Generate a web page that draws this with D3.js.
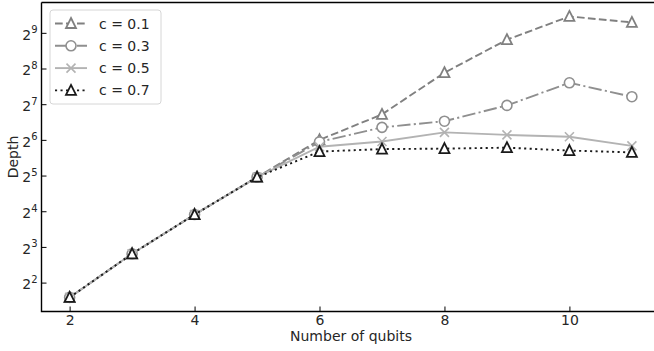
<!DOCTYPE html>
<html>
<head>
<meta charset="utf-8">
<script src="https://cdn.jsdelivr.net/npm/d3@7"></script>
<style>
  body { margin: 0; background: #fff; }
  svg text { font-family: "DejaVu Sans", sans-serif; fill: #262626; }
</style>
</head>
<body>
<div id="chart"></div>
<script>
// data
var qubits = [2, 3, 4, 5, 6, 7, 8, 9, 10, 11];
var depthC01 = [3, 7, 15, 31, 64, 105, 236, 448, 704, 627];
var depthC03 = [3, 7, 15, 31, 61.6, 81.6, 92, 125, 194, 148];
var depthC05 = [3, 7, 15, 31, 56, 62, 74, 70.5, 68, 57];
var depthC07 = [3, 7, 15, 31, 51, 53.5, 54, 55, 52, 50.2];
var seriesNames = ["c = 0.1", "c = 0.3", "c = 0.5", "c = 0.7"];
var xTicks = [2, 4, 6, 8, 10];
var yTickExps = [2, 3, 4, 5, 6, 7, 8, 9];

var width = 654, height = 351;
var margin = {top: 2.5, right: -6, bottom: 39.5, left: 41.5};
var innerW = width - margin.left - margin.right,
    innerH = height - margin.top - margin.bottom;

var svg = d3.select("#chart").append("svg")
    .attr("width", width)
    .attr("height", height);

var g = svg.append("g")
    .attr("transform", "translate(" + margin.left + "," + margin.top + ")");

var x = d3.scaleLinear()
    .domain([1.55, 11.45])
    .range([0, innerW]);

var y = d3.scaleLog().base(2)
    .domain([Math.pow(2, 1.19), Math.pow(2, 9.85)])
    .range([innerH, 0]);

// styles per series
var styles = [
  {values: depthC01, color: "#808080", dash: "7.7,3.3", marker: "tri"},
  {values: depthC03, color: "#8f8f8f", dash: "13.3,3.3,2.1,3.3", marker: "circle"},
  {values: depthC05, color: "#b3b3b3", dash: null, marker: "x"},
  {values: depthC07, color: "#1a1a1a", dash: "2.1,3.4", marker: "tri"}
];

var line = d3.line()
    .x(function(d) { return x(d[0]); })
    .y(function(d) { return y(d[1]); });

function drawMarker(sel, type, color) {
  if (type == "tri") {
    sel.append("path")
      .attr("d", "M0,-5 L5,5 L-5,5 Z")
      .attr("transform", "translate(0,-0.5)")
      .attr("fill", "#fff")
      .attr("stroke", color)
      .attr("stroke-width", 1.8)
      .attr("stroke-linejoin", "miter");
  } else if (type == "circle") {
    sel.append("circle")
      .attr("r", 5)
      .attr("fill", "#fff")
      .attr("stroke", color)
      .attr("stroke-width", 1.6);
  } else {
    sel.append("path")
      .attr("d", "M-4.5,-4.5 L4.5,4.5 M-4.5,4.5 L4.5,-4.5")
      .attr("stroke", color)
      .attr("stroke-width", 1.6);
  }
}

styles.forEach(function(s, i) {
  var pts = qubits.map(function(q, j) { return [q, s.values[j]]; });
  g.append("path")
    .datum(pts)
    .attr("fill", "none")
    .attr("stroke", s.color)
    .attr("stroke-width", 1.9)
    .attr("stroke-dasharray", s.dash)
    .attr("d", line);

  g.selectAll(".m" + i)
    .data(pts)
    .enter()
    .append("g")
      .attr("transform", function(d) { return "translate(" + x(d[0]) + "," + y(d[1]) + ")"; })
      .each(function() { drawMarker(d3.select(this), s.marker, s.color); });
});

// axes, ticks point inward
var xAxis = d3.axisBottom(x).tickValues(xTicks).tickSizeInner(-5).tickSizeOuter(0).tickPadding(3.5);
var gx = g.append("g")
    .attr("transform", "translate(0," + innerH + ")")
    .call(xAxis);
gx.select(".domain").remove();
gx.selectAll("line").attr("stroke", "#000").attr("stroke-width", 1);
gx.selectAll("text").attr("font-size", 14).attr("fill", "#262626");

var yAxis = d3.axisLeft(y)
    .tickValues(yTickExps.map(function(e) { return Math.pow(2, e); }))
    .tickSizeInner(-5).tickSizeOuter(0).tickPadding(6)
    .tickFormat("");
var gy = g.append("g").call(yAxis);
gy.select(".domain").remove();
gy.selectAll("line").attr("stroke", "#000").attr("stroke-width", 1);
gy.selectAll(".tick").each(function(d, i) {
  var t = d3.select(this).select("text")
    .attr("font-size", 14)
    .attr("x", -4)
    .attr("dy", "0.45em");
  t.append("tspan").text("2");
  t.append("tspan").attr("font-size", 10).attr("dy", "-0.65em").text(yTickExps[i]);
});

// spines (right spine falls outside the picture)
g.append("path")
  .attr("d", "M0,0 H" + innerW + " M0,0 V" + innerH + " H" + innerW)
  .attr("fill", "none")
  .attr("stroke", "#000")
  .attr("stroke-width", 1.4);

// labels
svg.append("text")
  .attr("x", 351)
  .attr("y", 341)
  .attr("text-anchor", "middle")
  .attr("font-size", 14)
  .text("Number of qubits");

svg.append("text")
  .attr("transform", "translate(18," + (margin.top + innerH / 2) + ") rotate(-90)")
  .attr("text-anchor", "middle")
  .attr("font-size", 14)
  .text("Depth");

// legend
var legend = svg.append("g").attr("transform", "translate(50,10)");
legend.append("rect")
  .attr("width", 111)
  .attr("height", 94)
  .attr("rx", 3)
  .attr("fill", "#fff")
  .attr("fill-opacity", 0.8)
  .attr("stroke", "#d6d6d6")
  .attr("stroke-width", 1);

styles.forEach(function(s, i) {
  var row = legend.append("g").attr("transform", "translate(0," + (13.5 + i * 22.3) + ")");
  row.append("line")
    .attr("x1", 5).attr("x2", 37)
    .attr("stroke", s.color)
    .attr("stroke-width", 1.9)
    .attr("stroke-dasharray", s.dash);
  drawMarker(row.append("g").attr("transform", "translate(21,0)"), s.marker, s.color);
  row.append("text")
    .attr("x", 49)
    .attr("dy", "0.36em")
    .attr("font-size", 14)
    .text(seriesNames[i]);
});
</script>
</body>
</html>
